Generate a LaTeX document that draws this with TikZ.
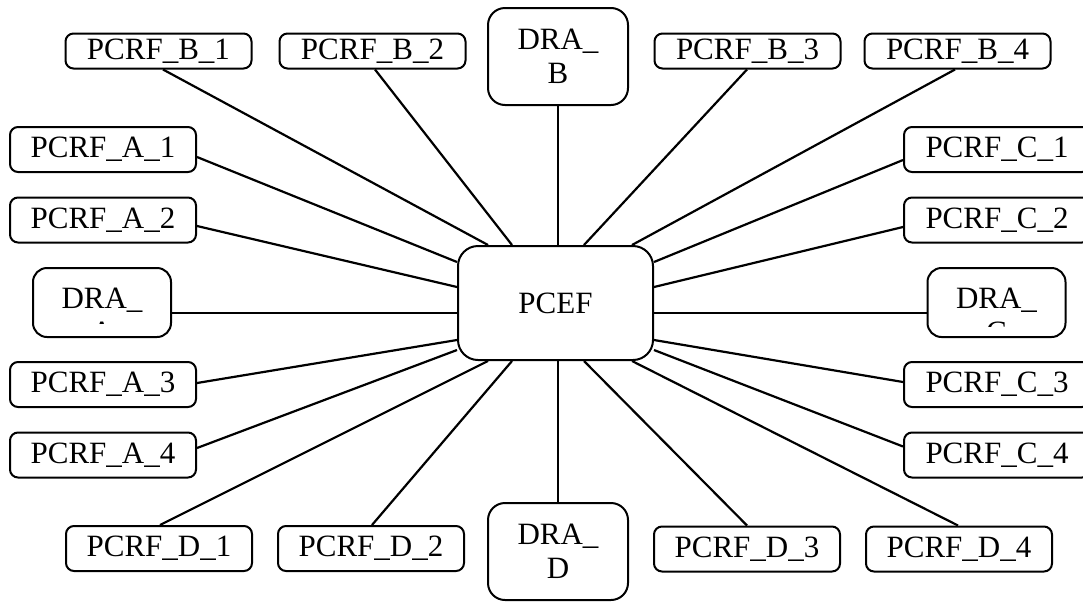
\documentclass[tikz,border=0pt]{standalone}
\usepackage{fontspec}
\setmainfont{Liberation Serif}
\usetikzlibrary{calc}
\tikzset{
  x=1pt, y=-1pt,
  txt/.style={font=\fontsize{31}{34}\selectfont, inner sep=0pt, align=center},
  pcrf/.style={txt, draw, line width=2pt, rounded corners=8pt,
               minimum width=186pt, minimum height=45pt},
  pcrftop/.style={pcrf, minimum height=35pt},
  dra/.style={txt, draw, line width=2pt, rounded corners=17pt,
              minimum width=140pt, minimum height=97pt},
  drasmall/.style={dra, rounded corners=14pt, minimum width=138pt, minimum height=69pt},
  hub/.style={txt, draw, line width=2pt, rounded corners=20pt,
              fill=white, minimum width=195pt, minimum height=114pt},
  link/.style={line width=2.2pt}
}
\begin{document}
\begin{tikzpicture}
\useasboundingbox (0,0) rectangle (1083,603);
\clip (0,0) rectangle (1083,603);

% central node
\node[hub] (pcef) at (555.5,303) {PCEF};

% top row
\node[pcrftop] (b1) at (158.5,51) {PCRF\_B\_1};
\node[pcrftop] (b2) at (372.5,51) {PCRF\_B\_2};
\node[dra] (dB) at (558,56.5) {DRA\_\\B};
\node[pcrftop] (b3) at (747.5,51) {PCRF\_B\_3};
\node[pcrftop] (b4) at (957.5,51) {PCRF\_B\_4};

% left column
\node[pcrf] (a1) at (103,149.5) {PCRF\_A\_1};
\node[pcrf] (a2) at (103,220) {PCRF\_A\_2};
\node[drasmall] (dA) at (102,302.5) {};
\node[pcrf] (a3) at (103,384.5) {PCRF\_A\_3};
\node[pcrf] (a4) at (103,455) {PCRF\_A\_4};

% right column
\node[pcrf] (c1) at (997,149.5) {PCRF\_C\_1};
\node[pcrf] (c2) at (997,220) {PCRF\_C\_2};
\node[drasmall] (dC) at (996.5,302.5) {};
\node[pcrf] (c3) at (997,384.5) {PCRF\_C\_3};
\node[pcrf] (c4) at (997,455) {PCRF\_C\_4};

% bottom row
\node[pcrf] (d1) at (159,548.5) {PCRF\_D\_1};
\node[pcrf] (d2) at (371,548.5) {PCRF\_D\_2};
\node[dra] (dD) at (558,551.5) {DRA\_\\D};
\node[pcrf] (d3) at (747,549) {PCRF\_D\_3};
\node[pcrf] (d4) at (959,549) {PCRF\_D\_4};

% side DRA labels: second line cut off by the text area
\begin{scope}
  \clip (dA.north west) rectangle ([yshift=14.5pt]dA.south east);
  \node[txt, anchor=north] (dAtxt) at ([yshift=-21pt]dA.north) {DRA\_\\A};
\end{scope}
\begin{scope}
  \clip (dC.north west) rectangle ([yshift=12pt]dC.south east);
  \node[txt, anchor=north] (dCtxt) at ([yshift=-21pt]dC.north) {DRA\_\\C};
\end{scope}

% connectors, top
\draw[link] ([xshift=4.5pt]b1.south) -- ([xshift=-67.5pt]pcef.north);
\draw[link] ([xshift=2.5pt]b2.south) -- ([xshift=-43.5pt]pcef.north);
\draw[link] (dB.south) -- (dB.south |- pcef.north);
\draw[link] ([xshift=-0.5pt]b3.south) -- ([xshift=28.5pt]pcef.north);
\draw[link] ([xshift=-2.5pt]b4.south) -- ([xshift=76.5pt]pcef.north);

% connectors, left
\draw[link] ([yshift=-7.5pt]a1.east) -- ([yshift=41pt]pcef.west);
\draw[link] ([yshift=-6pt]a2.east) -- ([yshift=16pt]pcef.west);
\draw[link] ([yshift=-10.5pt]dA.east) -- ([yshift=-10pt]pcef.west);
\draw[link] ([yshift=1.5pt]a3.east) -- ([yshift=-37pt]pcef.west);
\draw[link] ([yshift=7pt]a4.east) -- ([yshift=-47pt]pcef.west);

% connectors, right
\draw[link] ([yshift=-10.5pt]c1.west) -- ([yshift=41pt]pcef.east);
\draw[link] ([yshift=-7pt]c2.west) -- ([yshift=16pt]pcef.east);
\draw[link] ([yshift=-10.5pt]dC.west) -- ([yshift=-10pt]pcef.east);
\draw[link] ([yshift=2.5pt]c3.west) -- ([yshift=-37pt]pcef.east);
\draw[link] ([yshift=8.5pt]c4.west) -- ([yshift=-47pt]pcef.east);

% connectors, bottom
\draw[link] ([xshift=1pt]d1.north) -- ([xshift=-67.5pt]pcef.south);
\draw[link] ([xshift=1pt]d2.north) -- ([xshift=-43.5pt]pcef.south);
\draw[link] (dD.north) -- (dD.north |- pcef.south);
\draw[link] (d3.north) -- ([xshift=28.5pt]pcef.south);
\draw[link] ([xshift=-1pt]d4.north) -- ([xshift=76.5pt]pcef.south);
\end{tikzpicture}
\end{document}
